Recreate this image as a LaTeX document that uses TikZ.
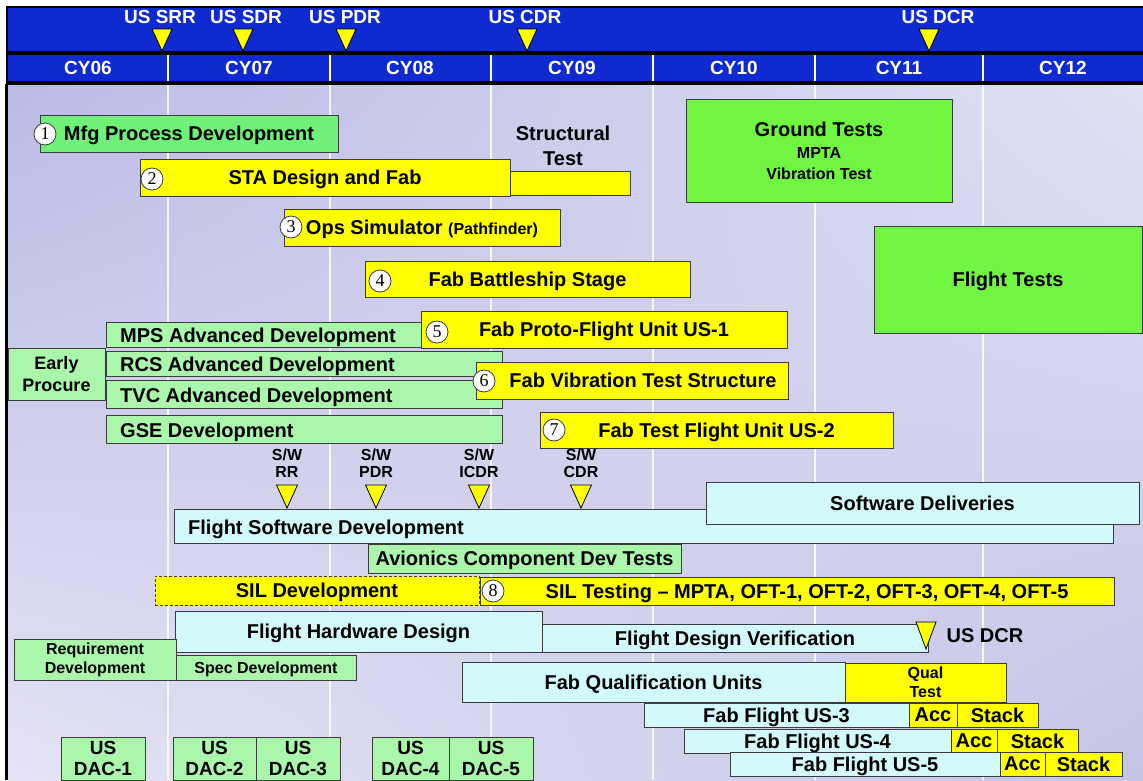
\documentclass[tikz,border=0pt]{standalone}
\usepackage{fontspec}
\usetikzlibrary{shadings}
\setmainfont{Liberation Sans}
\newfontfamily\numfont{Liberation Serif}
\definecolor{hdrblue}{RGB}{14,42,208}
\definecolor{gmfg}{RGB}{112,240,120}
\definecolor{gground}{RGB}{112,245,66}
\definecolor{lgreen}{RGB}{170,246,170}
\definecolor{lcyan}{RGB}{210,250,250}
\definecolor{yel}{RGB}{255,255,0}
\definecolor{bgray}{RGB}{60,60,60}
\definecolor{bgUL}{RGB}{186,186,230}
\definecolor{bgUR}{RGB}{224,224,242}
\definecolor{bgLL}{RGB}{228,228,243}
\definecolor{bgLR}{RGB}{196,196,232}
\newcommand\gbox[8][]{\node[bx,fill=#7,minimum width={#4-#2},minimum height={#5-#3},#1] (#6) at ({(#2+#4)/2},{(#3+#5)/2}) {#8};}
\newcommand\cnum[4]{\node[num] (#1) at (#2,#3) {#4};}
\newcommand\mstone[4]{\filldraw[tri] (#1-#4,#2) -- (#1+#4,#2) -- (#1,#3) -- cycle;}
\tikzset{
  bx/.style={draw=bgray, line width=0.9pt, inner sep=0pt, outer sep=0pt, text=black,
    font=\bfseries\fontsize{20}{24}\selectfont, align=center, text depth=0pt},
  num/.style={circle, draw=bgray, fill=white, line width=0.8pt, minimum size=22pt,
    inner sep=0pt, font=\numfont\fontsize{18}{18}\selectfont},
  lbl/.style={font=\bfseries\fontsize{20}{24}\selectfont, align=center, inner sep=0pt, text=black, text depth=0pt},
  hlbl/.style={font=\bfseries\fontsize{19}{22}\selectfont, inner sep=0pt, text=white},
  swl/.style={font=\bfseries\fontsize{16}{17}\selectfont, align=center, inner sep=0pt, text=black},
  tri/.style={fill=yel, draw=black, line width=0.8pt, line join=miter},
  yline/.style={white, line width=2.5pt},
  bline/.style={white, opacity=0.85, line width=2.5pt}
}
\begin{document}
\begin{tikzpicture}[x=1pt,y=-1pt]
\useasboundingbox (0,0) rectangle (1143,780);
\fill[white] (0,0) rectangle (1143,780);
% body background
\shade[upper left=bgUL, upper right=bgUR, lower left=bgLL, lower right=bgLR] (8,84) rectangle (1143,780);
% header
\fill[black] (6,6) rectangle (1143,85);
\fill[hdrblue] (8,8) rectangle (1143,51);
\fill[hdrblue] (8,55) rectangle (1143,81);
\fill[black] (5,84) rectangle (8,780);
% year dividers
\foreach \x in {168,330,491,653,815,983}{
  \draw[yline] (\x,55) -- (\x,81);
  \draw[bline] (\x,85) -- (\x,780);
}
\node[hlbl] (cy06) at (88,68) {CY06};
\node[hlbl] (cy07) at (249,68) {CY07};
\node[hlbl] (cy08) at (410,68) {CY08};
\node[hlbl] (cy09) at (572,68) {CY09};
\node[hlbl] (cy10) at (734,68) {CY10};
\node[hlbl] (cy11) at (899,68) {CY11};
\node[hlbl] (cy12) at (1063,68) {CY12};
% top milestones
\node[hlbl] (srr) at (160,17) {US SRR};
\node[hlbl] (sdr) at (246,17) {US SDR};
\node[hlbl] (pdr) at (345,17) {US PDR};
\node[hlbl] (cdr) at (525,17) {US CDR};
\node[hlbl] (dcr) at (938,17) {US DCR};
\mstone{162}{29}{51}{10}
\mstone{243}{29}{51}{10}
\mstone{346}{29}{51}{10}
\mstone{527}{29}{51}{10}
\mstone{929}{29}{51}{10}
% upper bars
\gbox{40}{115}{338}{152}{mfg}{gmfg}{Mfg Process Development}
\cnum{c1}{45}{134}{1}
\gbox{510}{171}{630}{195}{strbar}{yel}{}
\gbox{140}{159}{510}{196}{sta}{yel}{STA Design and Fab}
\cnum{c2}{152}{179}{2}
\node[lbl, text depth=, font=\bfseries\fontsize{20}{25}\selectfont] (strt) at (563,146) {Structural\\Test};
\gbox{284}{209}{560}{246}{ops}{yel}{Ops Simulator {\fontsize{16}{19}\selectfont(Pathfinder)}}
\cnum{c3}{291}{227}{3}
\gbox{365}{261}{690}{297}{batt}{yel}{Fab Battleship Stage}
\cnum{c4}{380}{281}{4}
\gbox[text depth=, font=\bfseries\fontsize{20}{21}\selectfont]{686}{99}{952}{202}{ground}{gground}{Ground Tests\\[1pt]{\fontsize{16}{19}\selectfont MPTA}\\{\fontsize{16}{19}\selectfont Vibration Test}}
\gbox{874}{226}{1142}{333}{ftests}{gground}{Flight Tests}
\gbox{106}{322}{421}{347}{mps}{lgreen}{}
\node[lbl, anchor=west] (mpst) at (120,335) {MPS Advanced Development};
\gbox{421}{311}{787}{348}{proto}{yel}{Fab Proto-Flight Unit US-1}
\cnum{c5}{437}{332}{5}
\gbox[text depth=, font=\bfseries\fontsize{18}{22}\selectfont]{8}{348}{105}{400}{early}{lgreen}{Early\\Procure}
\gbox{106}{351}{502}{376}{rcs}{lgreen}{}
\node[lbl, anchor=west] (rcst) at (120,364) {RCS Advanced Development};
\gbox{106}{380}{502}{408}{tvc}{lgreen}{}
\node[lbl, anchor=west] (tvct) at (120,395) {TVC Advanced Development};
\gbox{476}{362}{788}{399}{vib}{yel}{\hspace*{22pt}Fab Vibration Test Structure}
\cnum{c6}{484}{381}{6}
\gbox{106}{415}{502}{443}{gse}{lgreen}{}
\node[lbl, anchor=west] (gset) at (120,430) {GSE Development};
\gbox{540}{412}{893}{448}{tfu}{yel}{Fab Test Flight Unit US-2}
\cnum{c7}{554}{430}{7}
% software milestones
\node[swl] (swrr) at (287,463) {S/W\\RR};
\node[swl] (swpdr) at (376,463) {S/W\\PDR};
\node[swl] (swicdr) at (479,463) {S/W\\ICDR};
\node[swl] (swcdr) at (581,463) {S/W\\CDR};
\mstone{287}{485}{508}{10.5}
\mstone{376}{485}{508}{10.5}
\mstone{479}{485}{508}{10.5}
\mstone{581}{485}{508}{10.5}
% software / avionics
\gbox{174}{509}{1113}{543}{fsd}{lcyan}{}
\node[lbl, anchor=west] (fsdt) at (188,527) {Flight Software Development};
\gbox{706}{482}{1139}{524}{sd}{lcyan}{Software Deliveries}
\gbox{368}{544}{681}{573}{avi}{lgreen}{Avionics Component Dev Tests}
\gbox[dashed, dash pattern=on 3pt off 2pt]{155}{576}{479}{605}{sild}{yel}{SIL Development}
\gbox{480}{577}{1114}{605}{silt}{yel}{\hspace*{20pt}SIL Testing -- MPTA, OFT-1, OFT-2, OFT-3, OFT-4, OFT-5}
\cnum{c8}{493}{591}{8}
% hardware
\gbox{542}{624}{928}{652}{fdv}{lcyan}{Flight Design Verification}
\gbox{175}{611}{542}{652}{fhd}{lcyan}{Flight Hardware Design}
\mstone{926}{622}{649}{10}
\node[lbl] (dcr2) at (985,636) {US DCR};
\gbox[text depth=, font=\bfseries\fontsize{16}{19}\selectfont]{14}{639}{176}{680}{req}{lgreen}{Requirement\\Development}
\gbox[font=\bfseries\fontsize{16}{19}\selectfont]{176}{655}{356}{680}{spec}{lgreen}{Spec Development}
\gbox{462}{662}{845}{702}{fq}{lcyan}{Fab Qualification Units}
\gbox[text depth=, font=\bfseries\fontsize{16}{19}\selectfont]{845}{663}{1006}{702}{qt}{yel}{Qual\\Test}
\gbox{644}{703}{909}{727}{us3}{lcyan}{Fab Flight US-3}
\gbox{909}{703}{957}{727}{acc3}{yel}{Acc}
\gbox{957}{703}{1038}{727}{st3}{yel}{Stack}
\gbox{684}{729}{951}{753}{us4}{lcyan}{Fab Flight US-4}
\gbox{951}{729}{997}{753}{acc4}{yel}{Acc}
\gbox{997}{729}{1078}{753}{st4}{yel}{Stack}
\gbox{730}{752}{1000}{776}{us5}{lcyan}{Fab Flight US-5}
\gbox{1000}{752}{1045}{776}{acc5}{yel}{Acc}
\gbox{1045}{752}{1122}{776}{st5}{yel}{Stack}
% DACs
\gbox[text depth=, font=\bfseries\fontsize{19}{21}\selectfont]{61}{737}{145}{780}{dac1}{lgreen}{US\\DAC-1}
\gbox[text depth=, font=\bfseries\fontsize{19}{21}\selectfont]{173}{737}{256}{780}{dac2}{lgreen}{US\\DAC-2}
\gbox[text depth=, font=\bfseries\fontsize{19}{21}\selectfont]{256}{737}{340}{780}{dac3}{lgreen}{US\\DAC-3}
\gbox[text depth=, font=\bfseries\fontsize{19}{21}\selectfont]{372}{737}{449}{780}{dac4}{lgreen}{US\\DAC-4}
\gbox[text depth=, font=\bfseries\fontsize{19}{21}\selectfont]{449}{737}{533}{780}{dac5}{lgreen}{US\\DAC-5}
\end{tikzpicture}
\end{document}
